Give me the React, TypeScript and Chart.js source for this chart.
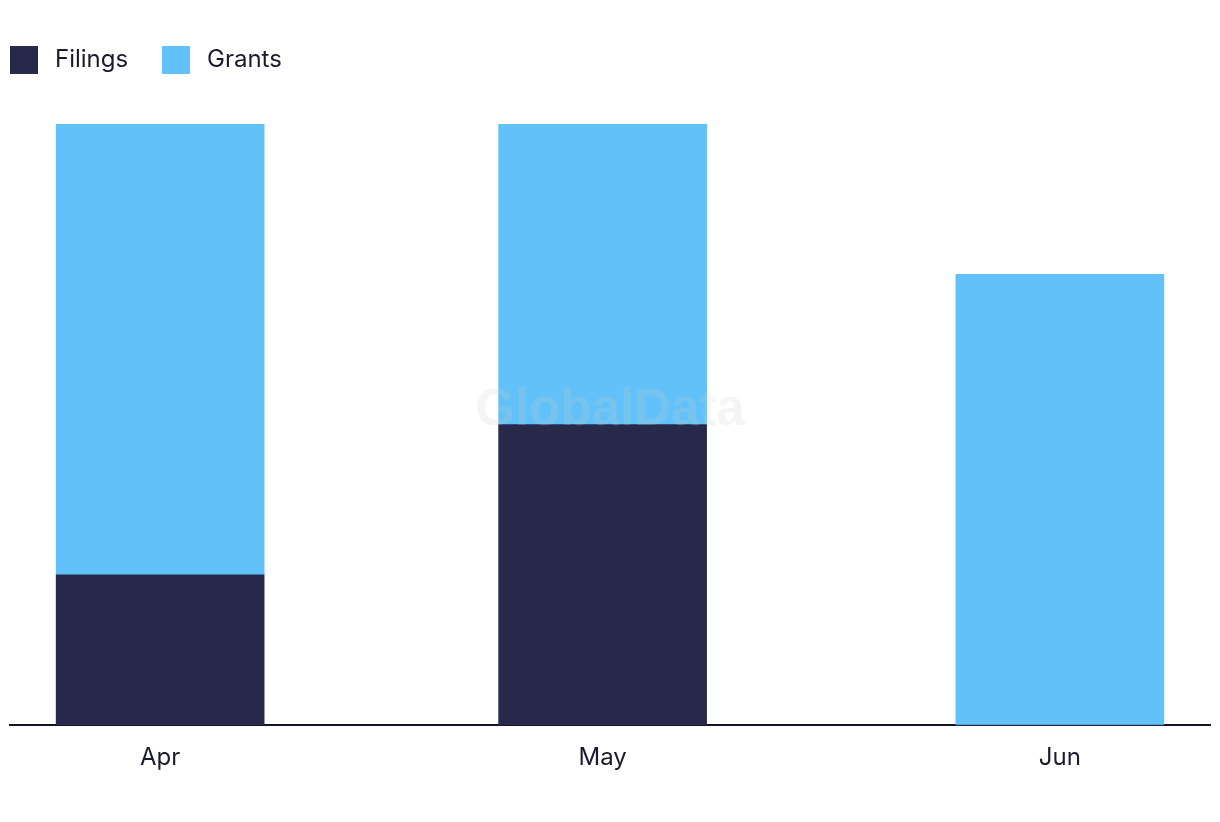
import React, { useEffect, useRef } from "react";
import { Chart, registerables } from "chart.js";

Chart.register(...registerables);

const categories = ["Apr", "May", "Jun"];
const monthDates = ["2024-04-01", "2024-05-01", "2024-06-01"];
const filings = [1, 2, 0];
const grants = [3, 2, 3];
const seriesNames = ["Filings", "Grants"];
const seriesColors = ["#28284b", "#62c1f8"];

const FONT = "Inter, 'Noto Sans', sans-serif";
const DAY = 86400000;
const base = Date.parse(monthDates[0]);
const dayPositions = monthDates.map((d) => Math.round((Date.parse(d) - base) / DAY));

const watermark = {
  id: "watermark",
  afterDatasetsDraw(chart: any) {
    const { ctx, chartArea } = chart;
    ctx.save();
    ctx.font = "bold 51px 'Liberation Sans', Arial, sans-serif";
    ctx.fillStyle = "rgba(205,205,205,0.2)";
    ctx.textAlign = "center";
    ctx.textBaseline = "middle";
    ctx.fillText("GlobalData", (chartArea.left + chartArea.right) / 2, (chartArea.top + chartArea.bottom) / 2 - 14);
    ctx.restore();
  },
};

export default function App() {
  const ref = useRef<HTMLCanvasElement | null>(null);
  useEffect(() => {
    if (!ref.current) return;
    const chart = new Chart(ref.current, {
      type: "bar",
      data: {
        datasets: seriesNames.map((name, s) => ({
          label: name,
          data: dayPositions.map((x, i) => ({ x, y: (s === 0 ? filings : grants)[i] })),
          backgroundColor: seriesColors[s],
          barThickness: 208,
        })),
      },
      options: {
        animation: false,
        responsive: true,
        maintainAspectRatio: false,
        layout: { padding: { left: 10, right: 10, top: 124, bottom: 32 } },
        plugins: {
          legend: { display: false },
          tooltip: { enabled: false },
        },
        scales: {
          x: {
            type: "linear",
            stacked: true,
            min: -10.18,
            max: 71.18,
            offset: false,
            grid: { display: false, drawTicks: false },
            border: { display: true, color: "#141428", width: 2 },
            afterBuildTicks(scale: any) {
              scale.ticks = dayPositions.map((v) => ({ value: v }));
            },
            ticks: {
              padding: 18,
              color: "#1a1a2e",
              font: { family: FONT, size: 24 },
              maxRotation: 0,
              autoSkip: false,
              callback: (v: any) => {
                const i = dayPositions.indexOf(Number(v));
                return i >= 0 ? categories[i] : "";
              },
            },
          },
          y: {
            stacked: true,
            display: false,
            min: 0,
            max: 4,
          },
        },
      },
      plugins: [watermark],
    });
    return () => chart.destroy();
  }, []);
  const legendLeft = [10, 162];
  return (
    <div style={{ position: "fixed", left: 0, top: 0, width: 1220, height: 822, background: "#fff" }}>
      {seriesNames.map((name, i) => (
        <div
          key={name}
          style={{
            position: "absolute",
            left: legendLeft[i],
            top: 46,
            height: 28,
            display: "flex",
            alignItems: "center",
            fontFamily: FONT,
            fontSize: 24,
            color: "#1a1a2e",
            whiteSpace: "nowrap",
          }}
        >
          <span style={{ width: 28, height: 28, background: seriesColors[i], marginRight: 17, display: "inline-block" }} />
          <span style={{ position: "relative", top: -2 }}>{name}</span>
        </div>
      ))}
      <canvas ref={ref} />
    </div>
  );
}
